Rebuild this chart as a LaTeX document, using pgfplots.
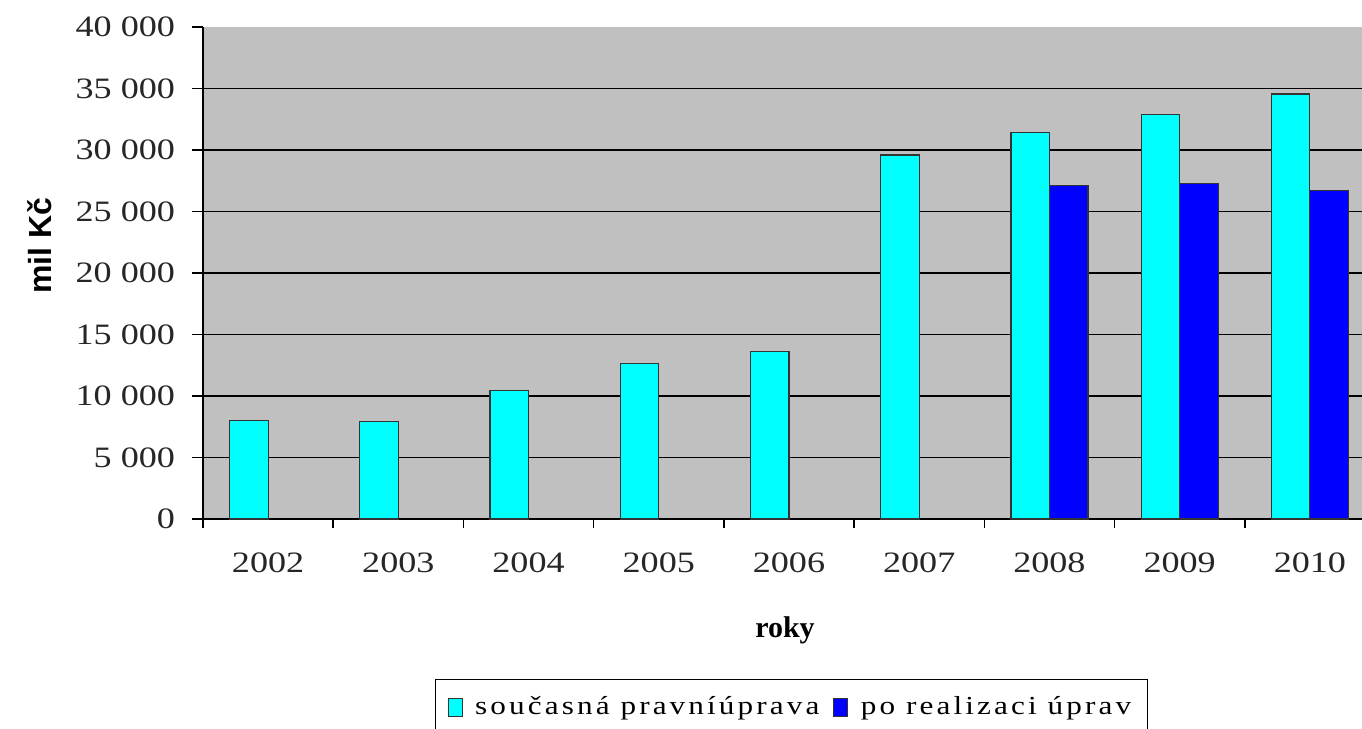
\documentclass[border=0pt]{standalone}
\usepackage{pgfplots}
\pgfplotsset{compat=1.18}
\usepackage{fontspec}
\setmainfont{Liberation Serif}
\newfontfamily\tickfont[FakeStretch=1.22]{Liberation Serif}
\newfontfamily\legfont[FakeStretch=1.2,LetterSpace=12]{Liberation Serif}
\newfontfamily\sansfam{Liberation Sans}
\definecolor{plotgray}{RGB}{192,192,192}
\definecolor{barcyan}{RGB}{0,255,255}
\definecolor{barblue}{RGB}{0,0,255}

\begin{document}
\begin{tikzpicture}
\path[use as bounding box, clip] (-101.5pt,-105pt) rectangle (579.5pt,259.5pt);
\begin{axis}[
  scale only axis,
  width=586pt, height=246pt,
  xmin=-0.5, xmax=8.5,
  ymin=0, ymax=40000,
  ybar=0pt, bar width=19.25pt,
  axis background/.style={fill=plotgray},
  axis lines*=left,
  axis line style={black, line width=0.8pt},
  ymajorgrids,
  grid style={black, line width=0.7pt},
  tick align=outside,
  major tick length=5.5pt,
  minor tick length=4.5pt,
  tick style={black, line width=0.8pt},
  scaled y ticks=false,
  ytick={0,5000,...,35000},
  yticklabels={0,5 000,10 000,15 000,20 000,25 000,30 000,35 000},
  extra y ticks={40000},
  extra y tick labels={40 000},
  extra y tick style={grid=none},
  xtick={0,1,2,3,4,5,6,7,8},
  xticklabels={2002,2003,2004,2005,2006,2007,2008,2009,2010},
  major x tick style={draw=none},
  minor xtick={-0.5,0.5,...,8.5},
  tick label style={font=\tickfont\fontsize{14.8}{16}\selectfont, text=black!85},
  x tick label style={yshift=-8pt},
  y tick label style={xshift=-5pt},
  ylabel={\sansfam\bfseries mil Kč},
  ylabel style={at={(axis description cs:-0.139,0.555)}, anchor=center, font=\fontsize{16}{18}\selectfont},
  xlabel={\bfseries roky},
  xlabel style={at={(axis description cs:0.4966,-0.226)}, anchor=center, font=\fontsize{15}{17}\selectfont},
  legend style={at={(axis description cs:0.198,-0.3252)}, anchor=north west,
    draw=black, line width=0.6pt, fill=white,
    inner xsep=6pt, inner ysep=6.5pt,
    font=\legfont\fontsize{13}{15}\selectfont,
    /tikz/every even column/.append style={column sep=5pt}},
  legend columns=2,
  legend image code/.code={\draw[#1, line width=0.5pt] (0pt,-4.5pt) rectangle (7pt,4.5pt);
    \path[draw=none, fill=none] (0pt,0pt) -- (11.5pt,0pt);},
]
\addplot[fill=barcyan, draw=black!80, line width=0.6pt] coordinates {
  (0,8000) (1,7950) (2,10450) (3,12650) (4,13600)
  (5,29600) (6,31400) (7,32900) (8,34550)
};
\addlegendentry{současná pravníúprava}
\addplot[fill=barblue, draw=black!80, line width=0.6pt] coordinates {
  (6,27100) (7,27300) (8,26700)
};
\addlegendentry{po realizaci úprav}
\end{axis}
\end{tikzpicture}
\end{document}
